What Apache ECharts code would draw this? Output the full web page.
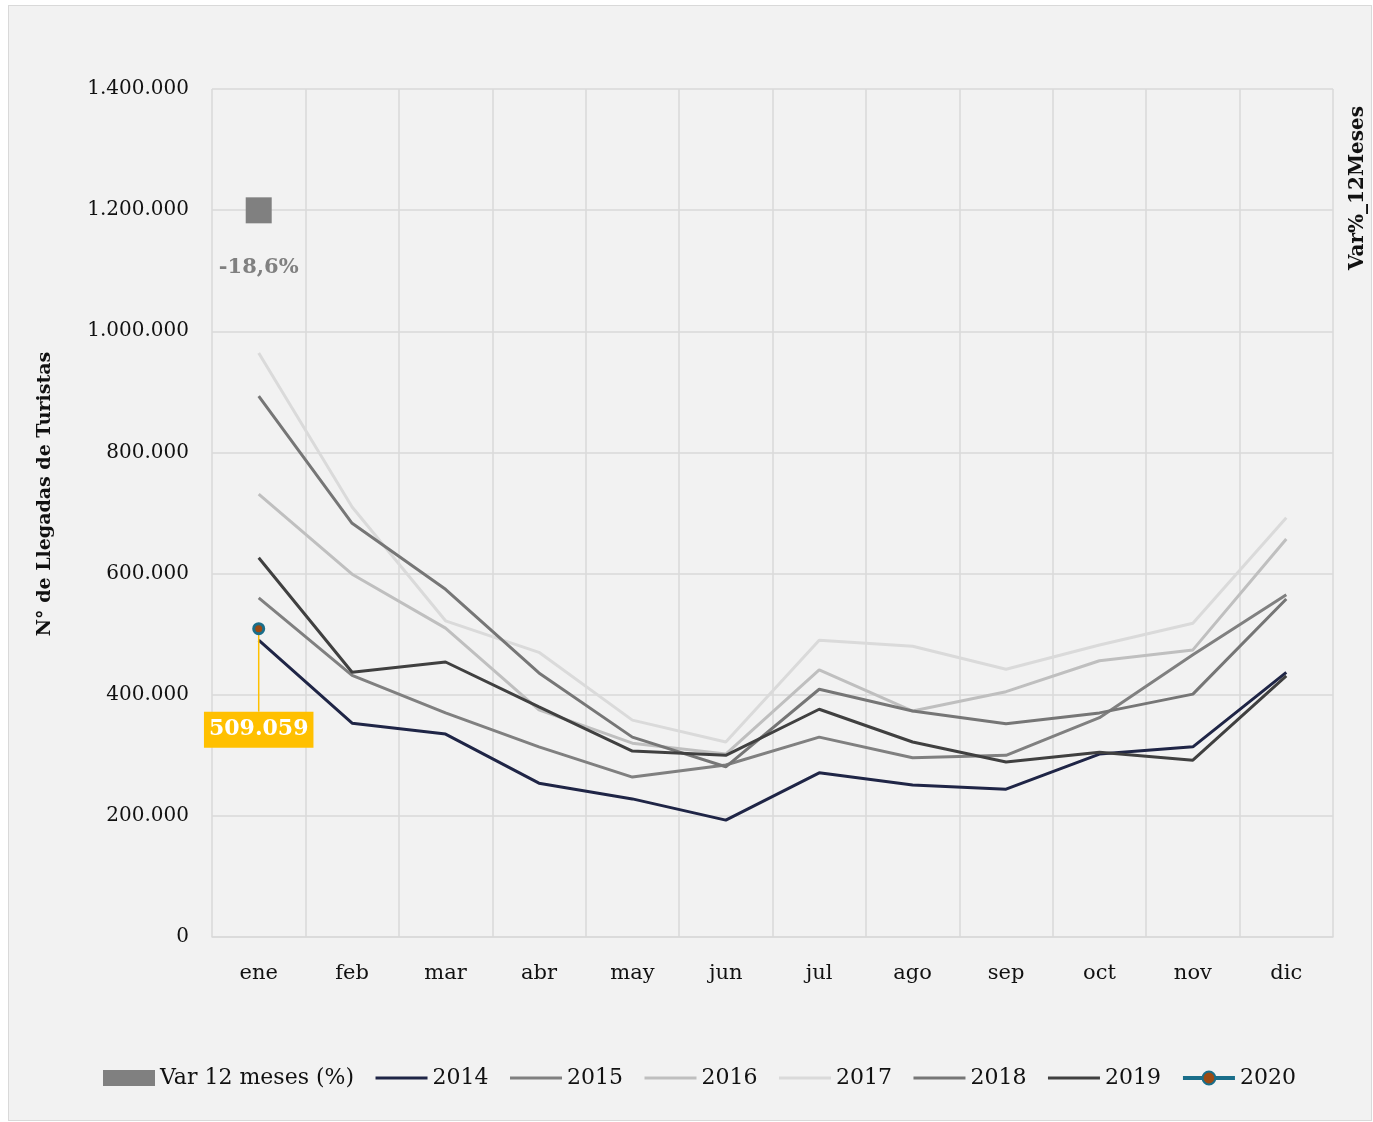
<!DOCTYPE html>
<html>
<head>
<meta charset="utf-8">
<script src="https://cdn.jsdelivr.net/npm/echarts@6/dist/echarts.min.js"></script>
<style>
  body { margin: 0; background: #fff; }
  .box {
    position: absolute; left: 8px; top: 5px;
    width: 1364px; height: 1116px;
    box-sizing: border-box; border: 1px solid #d9d9d9; background: #f2f2f2;
  }
  #myChart { width: 100%; height: 100%; }
</style>
</head>
<body>
<div class="box"><div id="myChart"></div></div>
<script>
  // meses y llegadas por año
  var months = ['ene', 'feb', 'mar', 'abr', 'may', 'jun', 'jul', 'ago', 'sep', 'oct', 'nov', 'dic'];
  var y2014 = [490000, 353000, 335000, 254000, 228000, 193000, 271000, 251000, 244000, 302000, 314000, 437000];
  var y2015 = [560000, 432000, 370000, 314000, 264000, 284000, 330000, 296000, 300000, 362000, 466000, 565000];
  var y2016 = [731000, 599000, 510000, 375000, 320000, 302000, 441000, 373000, 405000, 456000, 474000, 657000];
  var y2017 = [964000, 710000, 522000, 470000, 358000, 322000, 490000, 480000, 442000, 482000, 518000, 692000];
  var y2018 = [893000, 683000, 574000, 436000, 330000, 281000, 409000, 373000, 352000, 370000, 401000, 558000];
  var y2019 = [626000, 437000, 454000, 380000, 307000, 300000, 376000, 322000, 289000, 305000, 292000, 431000];
  var y2020 = [509059];
  var varPct = [-18.6];

  var FONT = 'DejaVu Serif';
  function miles(v) {
    return String(Math.round(v)).replace(/\B(?=(\d{3})+(?!\d))/g, '.');
  }

  function yearLine(name, data, color, z) {
    return {
      name: name,
      type: 'line',
      data: data,
      symbol: 'none',
      z: z,
      lineStyle: { color: color, width: 3 },
      itemStyle: { color: color }
    };
  }
  // sin simbolo en la leyenda para las lineas
  function legendLine(name) {
    return { name: name, itemStyle: { opacity: 0 } };
  }

  var myChart = echarts.init(document.getElementById('myChart'));
  myChart.setOption({
    animation: false,
    textStyle: { fontFamily: FONT },
    grid: { left: 203, top: 83, width: 1121, height: 848 },
    legend: {
      left: 89,
      top: 1056,
      itemWidth: 52,
      itemHeight: 16,
      itemGap: 20,
      lineStyle: { width: 'inherit' },
      textStyle: { fontFamily: FONT, fontSize: 22, color: '#111' },
      data: [
        { name: 'Var 12 meses (%)', icon: 'rect' },
        legendLine('2014'), legendLine('2015'), legendLine('2016'),
        legendLine('2017'), legendLine('2018'), legendLine('2019'),
        '2020'
      ]
    },
    graphic: [{
      type: 'text',
      x: 1349,
      y: 182,
      rotation: Math.PI / 2,
      style: {
        text: 'Var%_12Meses',
        font: 'bold 20px "DejaVu Serif"',
        fill: '#111',
        align: 'center',
        verticalAlign: 'middle'
      }
    }, {
      type: 'text',
      x: 36,
      y: 488,
      rotation: Math.PI / 2,
      style: {
        text: 'N° de Llegadas de Turistas',
        font: 'bold 19px "DejaVu Serif"',
        fill: '#111',
        align: 'center',
        verticalAlign: 'middle'
      }
    }],
    xAxis: {
      type: 'category',
      data: months,
      axisLine: { lineStyle: { color: '#d9d9d9', width: 1.5 } },
      axisTick: { length: 7, lineStyle: { color: '#d9d9d9', width: 1.5 } },
      axisLabel: { fontFamily: FONT, fontSize: 21, color: '#111', margin: 26 },
      splitLine: { show: true, lineStyle: { color: '#d9d9d9', width: 1.5 } }
    },
    yAxis: [{
      type: 'value',
      min: 0,
      max: 1400000,
      interval: 200000,
      axisLine: { show: false },
      axisTick: { show: false },
      axisLabel: { fontFamily: FONT, fontSize: 20, color: '#111', margin: 23, formatter: miles },
      splitLine: { lineStyle: { color: '#d9d9d9', width: 1.5 } }
    }, {
      type: 'value',
      min: -130,
      max: 0,
      interval: 10,
      axisLine: { show: false },
      axisTick: { show: false },
      axisLabel: { show: false },
      splitLine: { show: false }
    }],
    series: [
      {
        name: 'Var 12 meses (%)',
        type: 'line',
        yAxisIndex: 1,
        data: varPct,
        symbol: 'rect',
        symbolSize: 26,
        z: 10,
        lineStyle: { width: 0 },
        itemStyle: { color: '#808080' },
        label: {
          show: true,
          position: 'bottom',
          distance: 34,
          fontFamily: FONT,
          fontWeight: 'bold',
          fontSize: 21,
          color: '#808080',
          formatter: function (p) { return String(p.value).replace('.', ',') + '%'; }
        }
      },
      yearLine('2014', y2014, '#1f2546', 3),
      yearLine('2015', y2015, '#808080', 3),
      yearLine('2016', y2016, '#bfbfbf', 3),
      yearLine('2017', y2017, '#dadada', 3),
      yearLine('2018', y2018, '#767676', 4),
      yearLine('2019', y2019, '#404040', 5),
      {
        name: '2020',
        type: 'line',
        data: y2020,
        symbol: 'circle',
        symbolSize: 10,
        z: 6,
        lineStyle: { color: '#1a6e8a', width: 4 },
        itemStyle: { color: '#9c4a12', borderColor: '#1a6e8a', borderWidth: 3 },
        label: {
          show: true,
          position: 'inside',
          fontFamily: FONT,
          fontWeight: 'bold',
          fontSize: 22,
          color: '#fff',
          backgroundColor: '#ffc000',
          padding: [8, 5, 6, 5],
          formatter: function (p) { return miles(p.value); }
        },
        labelLayout: { dy: 101 },
        labelLine: { show: true, lineStyle: { color: '#ffc000', width: 1.5 } }
      }
    ]
  });
</script>
</body>
</html>
